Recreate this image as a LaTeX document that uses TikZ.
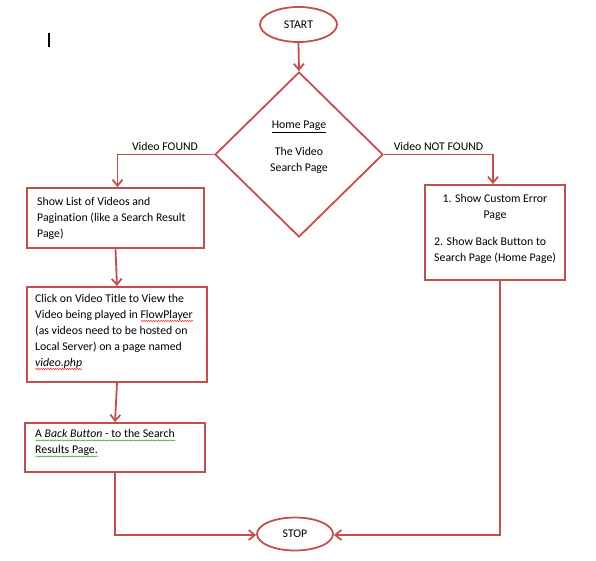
\documentclass[tikz,border=0pt]{standalone}
\usepackage{fontspec}
\setmainfont{Carlito}[Ligatures=NoCommon]
\usetikzlibrary{shapes.geometric,arrows.meta,decorations.pathmorphing}
\definecolor{ored}{HTML}{C0504D}
\definecolor{sqgreen}{HTML}{3CA03C}
\newlength\sqlen
\newcommand\sq[2]{\settowidth\sqlen{#2}#2\kern-\sqlen\tikz[baseline=0pt,x=1pt,y=1pt]\draw[#1,line width=0.5pt,decorate,decoration={snake,amplitude=0.5pt,segment length=2.4pt}] (0pt,-2.5pt) -- (\sqlen,-2.5pt);}
\begin{document}
\begin{tikzpicture}[x=1pt,y=-1pt,
  font=\fontsize{11.8}{16}\selectfont,
  line/.style={ored,line width=1.8pt},
  arr/.style={line,-{Straight Barb[length=6pt,width=10pt]}},
  box/.style={draw=ored,line width=1.8pt,fill=white,inner sep=0pt},
  term/.style={ellipse,draw=ored,line width=1.8pt,inner sep=0pt,minimum width=77pt,minimum height=35pt},
  txt/.style={inner sep=0pt,align=left,anchor=west},
  lbl/.style={inner sep=0pt}]
\useasboundingbox (0,0) rectangle (596,560);
% text cursor
\draw[black,line width=1.6pt] (49,33) -- (49,47);
% shapes
\node[term] (start) at (298.5,24.5) {START};
\node[diamond,draw=ored,line width=1.8pt,minimum width=168pt,minimum height=165pt,inner sep=0pt] (home) at (299,154.5) {};
\node[lbl,align=center] (hometext) at (299,147) {\underline{Home Page}\\[11pt]The Video\\Search Page};
\node[box,minimum width=177pt,minimum height=60pt] (box1) at (115.5,218) {};
\node[txt] (t1) at (37,218) {Show List of Videos and\\Pagination (like a Search Result\\Page)};
\node[box,minimum width=180pt,minimum height=95pt] (box2) at (117,334.5) {};
\node[txt] (t2) at (35,332) {Click on Video Title to View the\\Video being played in \sq{red}{FlowPlayer}\\(as videos need to be hosted on\\Local Server) on a page named\\\sq{red}{\textit{video.php}}};
\node[box,minimum width=180pt,minimum height=49pt] (box3) at (115,447.5) {};
\node[txt] (t3) at (35,443.5) {\sq{sqgreen}{A \textit{Back Button} - to the Search}\\\sq{sqgreen}{Results Page.}};
\node[box,minimum width=140pt,minimum height=95pt] (box4) at (495,232.5) {};
\node[lbl,align=center] (t4a) at (495,207) {1. Show Custom Error\\Page};
\node[txt] (t4b) at (434,250) {2. Show Back Button to\\Search Page (Home Page)};
\node[term,minimum width=76pt,minimum height=33pt] (stop) at (295,534) {STOP};
% labels
\node[lbl] (lf) at (165,146) {Video FOUND};
\node[lbl] (lnf) at (438.5,146) {Video NOT FOUND};
% connectors
\draw[arr] (start.south) -- (home.north);
\draw[arr] (home.west) -| ([xshift=2pt]box1.north);
\draw[arr] (home.east) -| ([xshift=-2pt]box4.north);
\draw[arr] (box1.south) -- (box2.north);
\draw[arr] (box2.south) -- (box3.north);
\draw[arr] (box3.south) |- ([yshift=-1pt]stop.west);
\draw[arr] ([xshift=5pt]box4.south) |- ([yshift=-1pt]stop.east);
\end{tikzpicture}
\end{document}
